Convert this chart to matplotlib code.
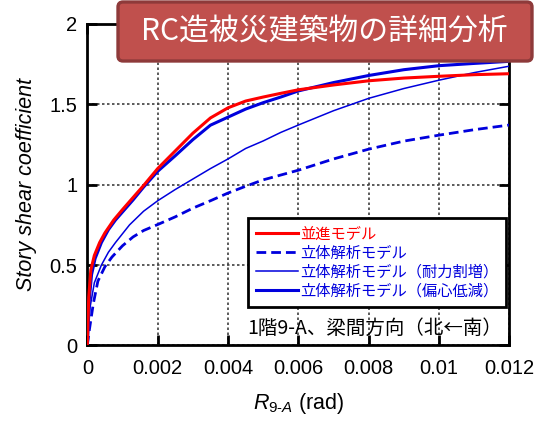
import matplotlib
matplotlib.use('Agg')
import matplotlib.pyplot as plt
from matplotlib.patches import FancyBboxPatch
from matplotlib.transforms import IdentityTransform

plt.rcParams['font.family'] = ['Liberation Sans', 'Noto Sans CJK JP']
plt.rcParams['mathtext.fontset'] = 'custom'
plt.rcParams['mathtext.rm'] = 'Liberation Sans'
plt.rcParams['mathtext.it'] = 'Liberation Sans:italic'

# story drift angle R (rad) vs story shear coefficient, 1F 9-A, transverse direction
x_trans = [0, 0.00004, 0.0001, 0.0002, 0.00035, 0.0005, 0.00075, 0.001, 0.0013, 0.0016,
           0.002, 0.0025, 0.003, 0.0035, 0.004, 0.0045, 0.005, 0.0055, 0.006, 0.007,
           0.008, 0.009, 0.01, 0.011, 0.012]
y_trans = [0, 0.3, 0.47, 0.56, 0.64, 0.7, 0.78, 0.845, 0.92, 0.995,
           1.1, 1.21, 1.32, 1.415, 1.478, 1.52, 1.545, 1.568, 1.59, 1.62,
           1.646, 1.663, 1.674, 1.684, 1.69]

x_3d = [0, 0.00006, 0.00017, 0.0003, 0.0005, 0.0007, 0.001, 0.0013, 0.0016, 0.002,
        0.0025, 0.003, 0.0035, 0.004, 0.0045, 0.005, 0.006, 0.007, 0.008, 0.009,
        0.01, 0.011, 0.012]
y_3d = [0, 0.1, 0.26, 0.4, 0.49, 0.55, 0.62, 0.675, 0.715, 0.752,
        0.8, 0.854, 0.9, 0.948, 0.99, 1.03, 1.09, 1.16, 1.221, 1.271,
        1.308, 1.342, 1.371]

x_str = [0, 0.00008, 0.0002, 0.0004, 0.0006, 0.0008, 0.0012, 0.0016, 0.002, 0.0025,
         0.003, 0.0035, 0.004, 0.0045, 0.005, 0.0055, 0.006, 0.007, 0.008, 0.009,
         0.01, 0.011, 0.012]
y_str = [0, 0.24, 0.39, 0.5, 0.58, 0.64, 0.75, 0.835, 0.9, 0.97,
         1.035, 1.1, 1.16, 1.225, 1.272, 1.325, 1.371, 1.46, 1.537, 1.598,
         1.65, 1.697, 1.737]

x_ecc = [0, 0.00005, 0.00012, 0.00022, 0.0004, 0.0006, 0.0008, 0.001, 0.0013, 0.0016,
         0.002, 0.0025, 0.003, 0.0035, 0.004, 0.0045, 0.005, 0.0055, 0.006, 0.007,
         0.008, 0.009, 0.01, 0.011, 0.012]
y_ecc = [0, 0.27, 0.44, 0.54, 0.64, 0.72, 0.78, 0.83, 0.905, 0.985,
         1.083, 1.18, 1.28, 1.37, 1.42, 1.47, 1.51, 1.545, 1.583, 1.635,
         1.679, 1.715, 1.74, 1.754, 1.767]

labels = ['並進モデル', '立体解析モデル', '立体解析モデル（耐力割増）', '立体解析モデル（偏心低減）']
xticks = [0, 0.002, 0.004, 0.006, 0.008, 0.01, 0.012]
xticklabels = ['0', '0.002', '0.004', '0.006', '0.008', '0.01', '0.012']
yticks = [0, 0.5, 1, 1.5, 2]
yticklabels = ['0', '0.5', '1', '1.5', '2']

red = '#FF0000'
blue = '#0000DD'

fig = plt.figure(figsize=(5.38, 4.26), dpi=100)
ax = fig.add_axes([0.1623, 0.189, 0.7847, 0.755])

ax.plot(x_3d, y_3d, color=blue, lw=2.0, ls=(0, (3.5, 1.8)), label=labels[1], zorder=3)
ax.plot(x_str, y_str, color=blue, lw=1.1, label=labels[2], zorder=3)
ax.plot(x_ecc, y_ecc, color=blue, lw=2.2, label=labels[3], zorder=4)
ax.plot(x_trans, y_trans, color=red, lw=2.2, label=labels[0], zorder=5)

ax.set_xlim(0, 0.012)
ax.set_ylim(0, 2)
ax.set_xticks(xticks)
ax.set_xticklabels(xticklabels)
ax.set_yticks(yticks)
ax.set_yticklabels(yticklabels)
ax.grid(True, color='0.25', ls=(0, (1.5, 1.5)), lw=1.2)
ax.tick_params(direction='in', length=7, width=2, top=True, right=True,
               labelsize=14.5, pad=7)
ax.tick_params(axis='x', pad=10)
for sp in ax.spines.values():
    sp.set_linewidth(2)

ax.set_xlabel(r'$R_{\mathit{9}\text{-}\mathit{A}}$ (rad)', fontsize=15.5, labelpad=9)
ax.set_ylabel('Story shear coefficient', fontsize=15.5, style='italic', labelpad=9)

# legend in the order red, dashed, thin, thick
h, l = ax.get_legend_handles_labels()
order = [3, 0, 1, 2]
leg = ax.legend([h[i] for i in order], [l[i] for i in order],
                loc='upper left', bbox_to_anchor=(0.3806, 0.396), borderaxespad=0,
                fancybox=False, edgecolor='black', framealpha=1,
                prop={'family': 'Noto Sans CJK JP', 'size': 11},
                handlelength=2.8, handletextpad=0.12, labelspacing=0.12,
                borderpad=0.5)
leg.get_frame().set_linewidth(2)
for txt, c in zip(leg.get_texts(), [red, blue, blue, blue]):
    txt.set_color(c)

ax.text(0.982, 0.054, '1階9-A、梁間方向（北←南）', transform=ax.transAxes,
        ha='right', va='center', fontsize=14, family='Noto Sans CJK JP', zorder=6)

# title banner over the top of the plot
W, H = 538, 426
box = FancyBboxPatch((118, H - 61), 414, 59, boxstyle='round,pad=0,rounding_size=5',
                     transform=IdentityTransform(), facecolor='#C0504D',
                     edgecolor='#8E3A3A', lw=2.4, zorder=10)
fig.add_artist(box)
fig.text(324 / W, 1 - 32 / H, 'RC造被災建築物の詳細分析', color='white',
         ha='center', va='center', fontsize=21.5, family='Noto Sans CJK JP', zorder=11)

fig.savefig('out.png', dpi=100)
